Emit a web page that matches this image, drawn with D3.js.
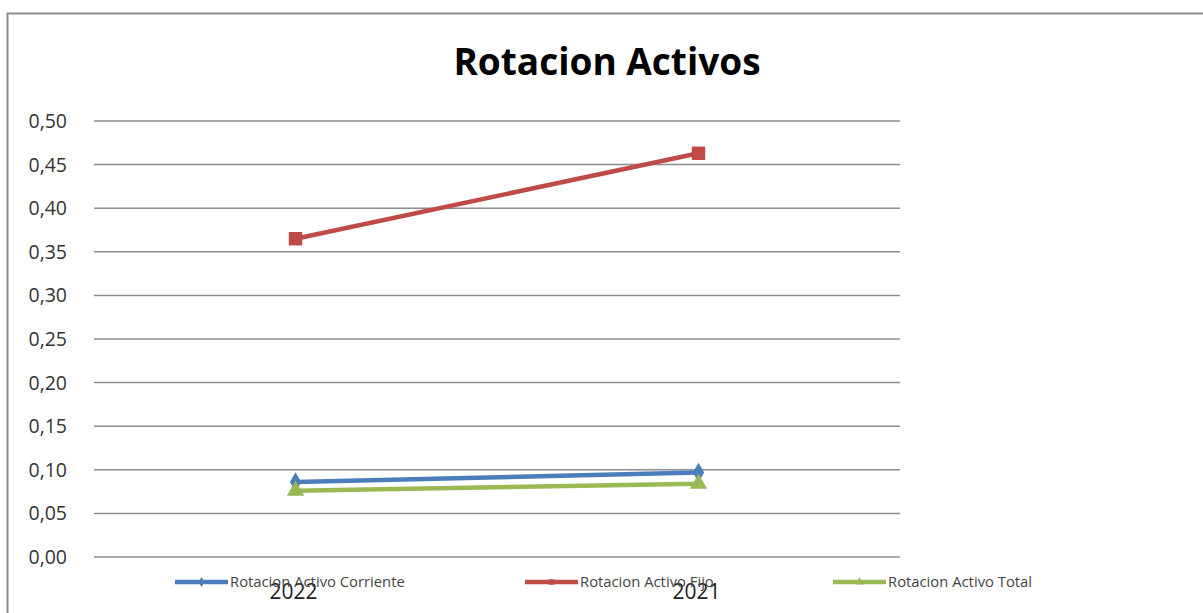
<!DOCTYPE html>
<html>
<head>
<meta charset="utf-8">
<script src="https://cdn.jsdelivr.net/npm/d3@7"></script>
<style>
  body { margin: 0; background: #fff; }
  text { font-family: "Open Sans", "DejaVu Sans", sans-serif; }
</style>
</head>
<body>
<div id="canvas"></div>
<script>
var years = ["2022", "2021"];
var corriente = [0.086, 0.097];
var fijo = [0.365, 0.463];
var total = [0.076, 0.084];
var yTicks = [0, 0.05, 0.10, 0.15, 0.20, 0.25, 0.30, 0.35, 0.40, 0.45, 0.50];

var series = [
  { name: "Rotacion Activo Corriente", values: corriente, color: "#4a7ebb", marker: "diamond" },
  { name: "Rotacion Activo Fijo", values: fijo, color: "#be4b48", marker: "square" },
  { name: "Rotacion Activo Total", values: total, color: "#98b954", marker: "triangle" }
];

var width = 1203, height = 613;
var svg = d3.select("#canvas").append("svg").attr("width", width).attr("height", height);

// chart frame
svg.append("rect").attr("x", 7.5).attr("y", 13.5)
  .attr("width", 1210).attr("height", 620)
  .attr("fill", "none").attr("stroke", "#8c8c8c").attr("stroke-width", 2);

svg.append("text").attr("x", 607).attr("y", 75)
  .attr("text-anchor", "middle")
  .style("font-size", "37px").style("font-weight", "bold").style("fill", "#000")
  .text("Rotacion Activos");

var x = d3.scaleBand().domain(years).range([94, 900]);
var y = d3.scaleLinear().domain([0, 0.5]).range([557, 121]);

// gridlines
svg.append("g").selectAll("line").data(yTicks).enter().append("line")
  .attr("x1", 94).attr("x2", 900)
  .attr("y1", function(d) { return y(d); }).attr("y2", function(d) { return y(d); })
  .attr("stroke", "#8c8c8c").attr("stroke-width", 1.5);

svg.append("g").selectAll("text").data(yTicks).enter().append("text")
  .attr("x", 67).attr("y", function(d) { return y(d) + 7; })
  .attr("text-anchor", "end")
  .style("font-size", "19.5px").style("fill", "#333")
  .text(function(d) { return d3.format(".2f")(d).replace(".", ","); });

var cx = function(d, i) { return x(years[i]) + x.bandwidth() / 2; };

var symbolFor = function(m, size) {
  var t = m === "diamond" ? d3.symbolDiamond : m === "square" ? d3.symbolSquare : d3.symbolTriangle;
  return d3.symbol().type(t).size(size)();
};

series.forEach(function(s) {
  var line = d3.line().x(cx).y(function(d) { return y(d); });
  svg.append("path").datum(s.values)
    .attr("d", line).attr("fill", "none")
    .attr("stroke", s.color).attr("stroke-width", 4.5);
  svg.append("g").selectAll("path").data(s.values).enter().append("path")
    .attr("d", symbolFor(s.marker, s.marker === "square" ? 180 : s.marker === "diamond" ? 110 : 130))
    .attr("transform", function(d, i) { return "translate(" + cx(d, i) + "," + y(d) + ")"; })
    .attr("fill", s.color);
});

// category labels
svg.append("g").selectAll("text").data(years).enter().append("text")
  .attr("x", function(d) { return x(d) + x.bandwidth() / 2 - 2; })
  .attr("y", 599)
  .attr("text-anchor", "middle")
  .style("font-size", "21px").style("fill", "#222")
  .text(function(d) { return d; });

// legend
var legendX = [175, 525, 833];
series.forEach(function(s, i) {
  var g = svg.append("g").attr("transform", "translate(" + legendX[i] + ",582)");
  g.append("line").attr("x1", 0).attr("x2", 53).attr("y1", 0).attr("y2", 0)
    .attr("stroke", s.color).attr("stroke-width", 4.5);
  g.append("path").attr("d", symbolFor(s.marker, 30))
    .attr("transform", "translate(26.5,0)").attr("fill", s.color);
  g.append("text").attr("x", 55).attr("y", 5)
    .style("font-size", "14.8px").style("fill", "#444")
    .text(s.name);
});
</script>
</body>
</html>
